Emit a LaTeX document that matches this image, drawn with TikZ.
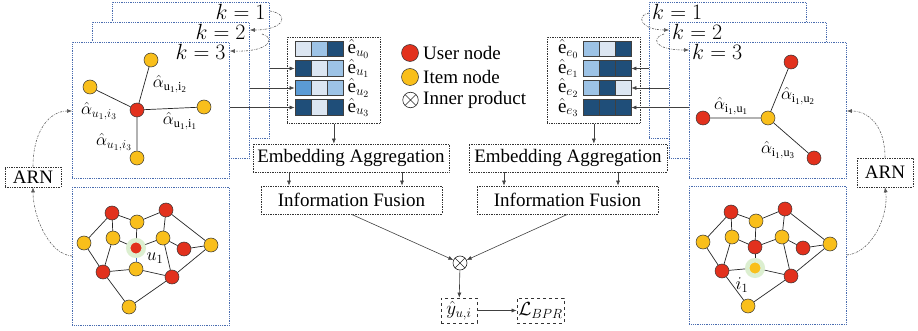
\RequirePackage{fix-cm}
\documentclass[tikz,border=0pt]{standalone}
\usepackage{fontspec}
\setmainfont{Liberation Serif}
\usetikzlibrary{arrows.meta,calc}

\definecolor{usr}{HTML}{E2311D}
\definecolor{itm}{HTML}{F9BF1B}
\definecolor{framec}{HTML}{4A6DB0}
\definecolor{halo}{HTML}{DCEFD0}
\definecolor{ca}{HTML}{DCE6F2}
\definecolor{cb}{HTML}{9DC3E6}
\definecolor{cc}{HTML}{5B9BD5}
\definecolor{cd}{HTML}{1F4E79}
\definecolor{hilite}{HTML}{4472C4}

\tikzset{
  frame/.style={draw=framec, densely dotted, line width=0.8pt, fill=white,
    anchor=north west, inner sep=0, minimum width=157, minimum height=136},
  tbox/.style={draw=black!80, densely dotted, line width=0.7pt, inner sep=0,
    minimum height=28},
  dbox/.style={draw=black!80, dashed, line width=0.7pt, inner sep=0,
    minimum height=25},
  cell/.style={draw=black!75, line width=0.8pt, minimum width=16,
    minimum height=15.5, inner sep=0},
  unode/.style={circle, fill=usr, draw=black!80, line width=0.5pt,
    minimum size=14, inner sep=0},
  inode/.style={circle, fill=itm, draw=black!80, line width=0.5pt,
    minimum size=14, inner sep=0},
  hunode/.style={circle, fill=usr, draw=halo, line width=4.5pt,
    minimum size=15.5, inner sep=0},
  hinode/.style={circle, fill=itm, draw=halo, line width=4.5pt,
    minimum size=15.5, inner sep=0},
  gedge/.style={draw=black!85, line width=0.7pt},
  arr/.style={-{Latex[length=5pt,width=4pt]}, line width=0.6pt, draw=black!75},
  darr/.style={arr, draw=black!65,
    dash pattern=on 2pt off 1.2pt on 0.6pt off 1.2pt},
  otimes/.style={circle, draw=black!85, line width=0.6pt, inner sep=0,
    minimum size=14, path picture={
      \draw[black!85, line width=0.6pt]
        (path picture bounding box.north west) -- (path picture bounding box.south east)
        (path picture bounding box.north east) -- (path picture bounding box.south west);}},
  lab/.style={inner sep=0},
  klab/.style={inner sep=0, font=\fontsize{22}{24}\selectfont},
  alab/.style={inner sep=0, font=\fontsize{17.5}{19}\selectfont},
}

% one row of an embedding bar: name, x of first cell, y, three fills
\newcommand{\embrow}[6]{%
  \node[cell,fill=#4] (#1a) at (#2,#3) {};
  \node[cell,fill=#5] (#1b) at (#2+16,#3) {};
  \node[cell,fill=#6] (#1c) at (#2+32,#3) {};}

% the user-item interaction graph; #1 style of the centre user, #2 style of
% the item below it, #3 colour of the edge between them
\newcommand{\netgraph}[3]{%
  \node[unode] (R1) at (112,213) {};
  \node[unode] (R2) at (166,210) {};
  \node[unode] (R3) at (103,272) {};
  \node[unode] (R4) at (172,277) {};
  \node[unode] (R5) at (184,249) {};
  \node[#1]    (C)  at (136,248) {};
  \node[inode] (Y1) at (137,222) {};
  \node[inode] (Y2) at (113,238) {};
  \node[inode] (Y3) at (84,243) {};
  \node[inode] (Y4) at (163,238) {};
  \node[inode] (Y5) at (211,245) {};
  \node[#2]    (Y6) at (136,269) {};
  \node[inode] (Y7) at (129,307) {};
  \draw[gedge] (R1) -- (Y3) (R1) -- (Y1) (R1) -- (Y2) (Y1) -- (R2)
    (Y1) -- (C) (Y2) -- (C) (Y2) -- (R3) (Y3) -- (R3) (C) -- (Y4)
    (R2) -- (Y4) (R2) -- (Y5) (Y4) -- (R5) (Y4) -- (R4) (R5) -- (Y5)
    (Y5) -- (R4) (R3) -- (Y6) (Y6) -- (R4) (R3) -- (Y7) (Y7) -- (R4);
  \draw[gedge, draw=#3] (C) -- (Y6);}

\begin{document}
\begin{tikzpicture}[x=1pt, y=-1pt, font=\fontsize{19}{22}\selectfont]
\useasboundingbox (0,0) rectangle (918,331);

% ---------- left: user-side layer stack ----------
\node[frame] (L1) at (112,2) {};
\node[frame] (L2) at (92,22) {};
\node[frame] (L3) at (72,42) {};
\node[frame, minimum height=138] (LB) at (72,187) {};
\node[klab, anchor=east] at ([xshift=-4pt,yshift=-10pt]L1.north east) {$k=1$};
\node[klab, anchor=east] at ([xshift=-4pt,yshift=-10pt]L2.north east) {$k=2$};
\node[klab, anchor=east] at ([xshift=-4pt,yshift=-10pt]L3.north east) {$k=3$};

\coordinate (ka) at ([yshift=-9pt]L1.north east);
\coordinate (kb) at (262,34);
\draw[darr] (ka) .. controls (290,14) and (285,30) .. ([yshift=-8pt]L2.north east);
\draw[darr] (kb) .. controls (275,37) and (272,52) .. ([yshift=-9pt]L3.north east);

% star around u1
\node[unode] (su) at (137,110) {};
\node[inode] (si1) at (204,107) {};
\node[inode] (si2) at (151,60) {};
\node[inode] (si3) at (90,87) {};
\node[inode] (si4) at (137,158) {};
\draw[gedge] (su) -- (si1) (su) -- (si2) (su) -- (si3) (su) -- (si4);
\node[alab] at (170,84) {$\hat{\alpha}_{\mathrm{u_1,i_2}}$};
\node[alab] at (99,111) {$\hat{\alpha}_{u_1,i_3}$};
\node[alab] at (180,121) {$\hat{\alpha}_{\mathrm{u_1,i_1}}$};
\node[alab] at (114,142) {$\hat{\alpha}_{u_1,i_3}$};

% interaction graph, user view
\netgraph{hunode}{inode}{hilite}
\node[lab, font=\fontsize{18}{20}\selectfont] at (155,258) {$u_1$};

% ---------- right: item-side layer stack ----------
\node[frame] (Ra) at (649,2) {};
\node[frame] (Rb) at (669,22) {};
\node[frame] (Rc) at (689,42) {};
\node[frame, minimum height=138] (RB) at (689,186) {};
\node[klab, anchor=west] at ([xshift=3pt,yshift=-10pt]Ra.north west) {$k=1$};
\node[klab, anchor=west] at ([xshift=3pt,yshift=-10pt]Rb.north west) {$k=2$};
\node[klab, anchor=west] at ([xshift=3pt,yshift=-10pt]Rc.north west) {$k=3$};

\coordinate (kc) at ([yshift=-11pt]Ra.north west);
\coordinate (kd) at (664,34);
\draw[darr] (kc) .. controls (636,15) and (640,30) .. ([yshift=-8pt]Rb.north west);
\draw[darr] (kd) .. controls (652,37) and (652,50) .. ([yshift=-8pt]Rc.north west);

% star around i1
\node[inode] (ti) at (768,118) {};
\node[unode] (tu1) at (703,118) {};
\node[unode] (tu2) at (791,62) {};
\node[unode] (tu3) at (814,158) {};
\draw[gedge] (ti) -- (tu1) (ti) -- (tu2) (ti) -- (tu3);
\node[alab] at (731,106) {$\hat{\alpha}_{\mathrm{i_1,u_1}}$};
\node[alab] at (798,96) {$\hat{\alpha}_{\mathrm{i_1,u_2}}$};
\node[alab] at (778,150) {$\hat{\alpha}_{\mathrm{i_1,u_3}}$};

% interaction graph, item view
\begin{scope}[xshift=619pt, yshift=1pt, name prefix=r-]
  \netgraph{unode}{hinode}{black!85}
\end{scope}
\node[lab, font=\fontsize{18}{20}\selectfont] at (742,285) {$i_1$};

% ---------- ARN feedback ----------
\node[tbox, minimum width=56, minimum height=20] (LA) at (33,177) {ARN};
\node[tbox, minimum width=56, minimum height=29] (RA) at (885,172.5) {ARN};
\draw[darr] (LA.north) .. controls (33,130) and (50,111) .. (L3.west |- 0,111);
\draw[darr] (LB.west |- 0,256) .. controls (48,254) and (33,215) .. (LA.south);
\draw[darr] (RA.north) .. controls (885,125) and (868,111) .. (Rc.east |- 0,111);
\draw[darr] (RB.east |- 0,255) .. controls (872,253) and (889,215) .. (RA.south);

% ---------- embedding tables ----------
\node[tbox, minimum width=93, minimum height=86, anchor=north west] (LE) at (287,37) {};
\embrow{lu0}{303}{49}{ca}{cb}{cd}
\embrow{lu1}{303}{68.5}{cd}{ca}{cb}
\embrow{lu2}{303}{88}{cc}{ca}{cb}
\embrow{lu3}{303}{107.5}{cd}{ca}{cd}
\node[lab, anchor=west] at ([xshift=4pt]lu0c.east) {$\hat{\mathrm{e}}_{u_0}$};
\node[lab, anchor=west] at ([xshift=4pt]lu1c.east) {$\hat{\mathrm{e}}_{u_1}$};
\node[lab, anchor=west] at ([xshift=4pt]lu2c.east) {$\hat{\mathrm{e}}_{u_2}$};
\node[lab, anchor=west] at ([xshift=4pt]lu3c.east) {$\hat{\mathrm{e}}_{u_3}$};
\draw[arr] (L1.east |- lu1a.west) -- (lu1a.west);
\draw[arr] (L2.east |- lu2a.west) -- (lu2a.west);
\draw[arr] (L3.east |- lu3a.west) -- (lu3a.west);

\node[tbox, minimum width=93, minimum height=86, anchor=north west] (RE) at (547,37) {};
\embrow{re0}{591}{49}{cb}{ca}{cd}
\embrow{re1}{591}{68.5}{cb}{cd}{cd}
\embrow{re2}{591}{88}{cb}{cd}{ca}
\embrow{re3}{591}{107.5}{cd}{cd}{cd}
\node[lab, anchor=east] at ([xshift=-4pt]re0a.west) {$\hat{\mathrm{e}}_{e_0}$};
\node[lab, anchor=east] at ([xshift=-4pt]re1a.west) {$\hat{\mathrm{e}}_{e_1}$};
\node[lab, anchor=east] at ([xshift=-4pt]re2a.west) {$\hat{\mathrm{e}}_{e_2}$};
\node[lab, anchor=east] at ([xshift=-4pt]re3a.west) {$\hat{\mathrm{e}}_{e_3}$};
\draw[arr] (Ra.west |- re1c.east) -- (re1c.east);
\draw[arr] (Rb.west |- re2c.east) -- (re2c.east);
\draw[arr] (Rc.west |- re3c.east) -- (re3c.east);

% ---------- legend ----------
\node[unode, minimum size=17] (lgu) at (410,53) {};
\node[inode, minimum size=17] (lgi) at (410,77) {};
\node[otimes, minimum size=15.5] (lgx) at (410.5,100) {};
\node[lab, anchor=west] at (423,53) {User node};
\node[lab, anchor=west] at (423,77) {Item node};
\node[lab, anchor=west] at (423,100) {Inner product};

% ---------- aggregation and prediction ----------
\node[tbox, minimum width=196] (LEA) at (351,158) {Embedding Aggregation};
\node[tbox, minimum width=198] (REA) at (568,158) {Embedding Aggregation};
\node[tbox, minimum width=181] (LIF) at (351.5,200) {Information Fusion};
\node[tbox, minimum width=181] (RIF) at (567.5,200) {Information Fusion};
\draw[arr] (LE.south) -- (LE.south |- LEA.north);
\draw[arr] (RE.south) -- (RE.south |- REA.north);
\draw[arr] ([xshift=-62pt]LEA.south) -- ([xshift=-62pt]LEA.south |- LIF.north);
\draw[arr] ([xshift=51pt]LEA.south) -- ([xshift=51pt]LEA.south |- LIF.north);
\draw[arr] ([xshift=-64pt]REA.south) -- ([xshift=-64pt]REA.south |- RIF.north);
\draw[arr] ([xshift=50pt]REA.south) -- ([xshift=50pt]REA.south |- RIF.north);

\node[otimes] (X) at (460,263) {};
\node[dbox, minimum width=36] (Yh) at (459,310.5) {$\hat{y}_{u,i}$};
\node[dbox, minimum width=47] (LB2) at (540.5,310.5) {$\mathcal{L}_{BPR}$};
\draw[arr] (LIF.south) -- (X);
\draw[arr] (RIF.south) -- (X);
\draw[arr] (X) -- (Yh);
\draw[arr] (Yh) -- (LB2);
\end{tikzpicture}
\end{document}
